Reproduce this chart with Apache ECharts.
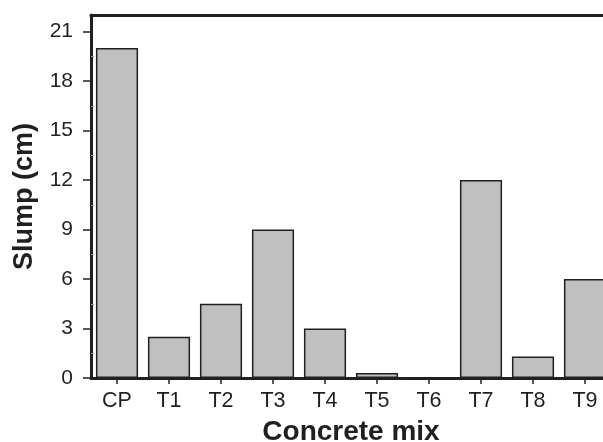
<!DOCTYPE html>
<html>
<head>
<meta charset="utf-8">
<script src="https://cdn.jsdelivr.net/npm/echarts@6/dist/echarts.min.js"></script>
<style>
  html, body { margin: 0; padding: 0; background: #ffffff; }
  #chart { width: 603px; height: 442px; }
</style>
</head>
<body>
<div id="chart"></div>
<script>
// Slump of each concrete mix
const categories = ['CP', 'T1', 'T2', 'T3', 'T4', 'T5', 'T6', 'T7', 'T8', 'T9'];
const slumpCm = [20, 2.5, 4.5, 9, 3, 0.3, 0, 12, 1.3, 6];
const yTicks = [0, 3, 6, 9, 12, 15, 18, 21];
const yMax = 22;

const ink = '#231f20';
const font = '"Liberation Sans", Arial, Helvetica, sans-serif';
// Minor ticks sit halfway between the major ones
const minorTicks = yTicks.slice(0, -1).map((v, i) => (v + yTicks[i + 1]) / 2);

const chart = echarts.init(document.getElementById('chart'), null, { renderer: 'canvas' });
chart.setOption({
  animation: false,
  backgroundColor: '#ffffff',
  // the plot frame runs past the right edge of the page
  grid: { left: 91, width: 520, top: 15, bottom: 64, containLabel: false, outerBoundsMode: 'none' },
  xAxis: [
    {
      type: 'category',
      data: categories,
      position: 'bottom',
      name: 'Concrete mix',
      nameLocation: 'middle',
      nameGap: 40,
      nameTextStyle: { fontFamily: font, fontSize: 28, fontWeight: 'bold', color: ink },
      axisLine: { onZero: false, lineStyle: { color: ink, width: 3 } },
      axisTick: { show: true, alignWithLabel: true, length: 6, lineStyle: { color: ink, width: 1.5 } },
      axisLabel: { fontFamily: font, fontSize: 21.5, color: ink, margin: 12 }
    },
    {
      type: 'category',
      data: categories,
      position: 'top',
      axisLine: { onZero: false, lineStyle: { color: ink, width: 3 } },
      axisTick: { show: false },
      axisLabel: { show: false }
    }
  ],
  yAxis: [
    {
      type: 'value',
      min: 0,
      max: yMax,
      name: 'Slump (cm)',
      nameLocation: 'middle',
      nameGap: 53,
      nameTextStyle: { fontFamily: font, fontSize: 27, fontWeight: 'bold', color: ink },
      axisLine: { show: true, onZero: false, lineStyle: { color: ink, width: 3 } },
      axisTick: { show: true, length: 8, customValues: yTicks, lineStyle: { color: ink, width: 1.5 } },
      axisLabel: { fontFamily: font, fontSize: 21, color: ink, margin: 18, customValues: yTicks },
      splitLine: { show: false }
    },
    {
      type: 'value',
      min: 0,
      max: yMax,
      position: 'left',
      axisLine: { show: false },
      axisTick: { show: true, inside: true, length: 3, customValues: minorTicks, lineStyle: { color: '#9a9a9a', width: 1 } },
      axisLabel: { show: false },
      splitLine: { show: false }
    }
  ],
  series: [
    {
      type: 'bar',
      data: slumpCm,
      barCategoryGap: '19%',
      itemStyle: { color: '#c0c0c0', borderColor: ink, borderWidth: 1.5 }
    }
  ]
});
</script>
</body>
</html>
